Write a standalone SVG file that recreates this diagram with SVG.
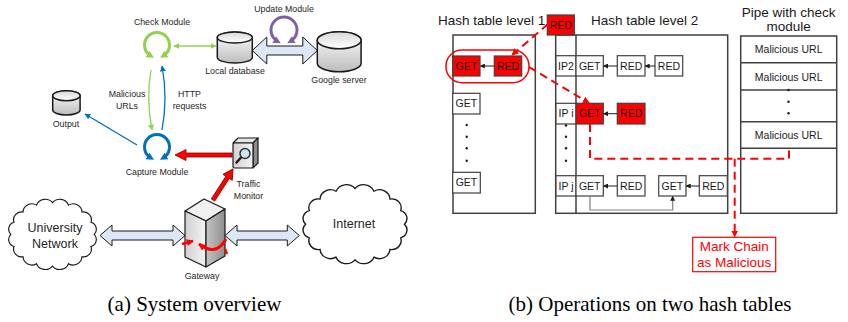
<svg xmlns="http://www.w3.org/2000/svg" width="848" height="322" viewBox="0 0 848 322">
  <style>
    .lbl { font-family: "Liberation Sans", Arial, sans-serif; font-size: 8.8px; fill: #262626; text-anchor: middle; }
    .cloudtxt { font-family: "Liberation Sans", Arial, sans-serif; font-size: 12.5px; fill: #262626; text-anchor: middle; }
    .cap { font-family: "Liberation Serif", "Times New Roman", serif; font-size: 21px; fill: #000; text-anchor: middle; }
    .title { font-family: "Liberation Sans", Arial, sans-serif; font-size: 13.5px; fill: #1a1a1a; }
    .bt { font-family: "Liberation Sans", Arial, sans-serif; font-size: 10.5px; fill: #1a1a1a; text-anchor: middle; }
    .cell { fill: #fff; stroke: #404040; stroke-width: 1.2; }
    .hot { fill: #ff0000; stroke: #404040; stroke-width: 1.2; }
    .tbl { fill: none; stroke: #404040; stroke-width: 1.5; }
    .link { fill: none; stroke: #1a1a1a; stroke-width: 1; marker-end: url(#ah-black); }
    .dash { fill: none; stroke: #ff0000; stroke-width: 2; stroke-dasharray: 8 5; }
    .cyl { fill: url(#cylBody); stroke: #1a1a1a; stroke-width: 1.5; }
    .cyltop { fill: url(#cylTop); stroke: #1a1a1a; stroke-width: 1.5; }
    .block { fill: #dde7f5; stroke: #1a1a1a; stroke-width: 1; }
    .redblock { fill: #ff0000; stroke: #7f0000; stroke-width: 0.8; }
    .cloud { fill: #fff; stroke: #1a1a1a; stroke-width: 1.2; }
    .dot { fill: #1a1a1a; }
  </style>
  <defs>
    <linearGradient id="cylBody" x1="0" y1="0" x2="0" y2="1">
      <stop offset="0" stop-color="#ffffff"/>
      <stop offset="1" stop-color="#bdbdbd"/>
    </linearGradient>
    <linearGradient id="cylTop" x1="0" y1="0" x2="0" y2="1">
      <stop offset="0" stop-color="#d8d8d8"/>
      <stop offset="1" stop-color="#ffffff"/>
    </linearGradient>
    <linearGradient id="gwLeft" x1="0" y1="0" x2="1" y2="0">
      <stop offset="0" stop-color="#d0d0d0"/>
      <stop offset="1" stop-color="#f4f4f4"/>
    </linearGradient>
    <linearGradient id="gwRight" x1="0" y1="0" x2="1" y2="0">
      <stop offset="0" stop-color="#c4c4c4"/>
      <stop offset="1" stop-color="#8e8e8e"/>
    </linearGradient>
    <marker id="ah-green" viewBox="0 0 10 10" refX="5" refY="5" markerWidth="7.5" markerHeight="7.5" markerUnits="userSpaceOnUse" orient="auto-start-reverse">
      <path d="M0,0 L10,5 L0,10 z" fill="#92d050"/>
    </marker>
    <marker id="ah-blue" viewBox="0 0 10 10" refX="5" refY="5" markerWidth="7.5" markerHeight="7.5" markerUnits="userSpaceOnUse" orient="auto-start-reverse">
      <path d="M0,0 L10,5 L0,10 z" fill="#0070c0"/>
    </marker>
    <marker id="ah-purple" viewBox="0 0 10 10" refX="5" refY="5" markerWidth="7.5" markerHeight="7.5" markerUnits="userSpaceOnUse" orient="auto-start-reverse">
      <path d="M0,0 L10,5 L0,10 z" fill="#7e60a8"/>
    </marker>
    <marker id="tip-green" viewBox="0 0 10 10" refX="9" refY="5" markerWidth="6" markerHeight="6" markerUnits="userSpaceOnUse" orient="auto-start-reverse">
      <path d="M0,0 L10,5 L0,10 z" fill="#92d050"/>
    </marker>
    <marker id="tip-blue" viewBox="0 0 10 10" refX="9" refY="5" markerWidth="6" markerHeight="6" markerUnits="userSpaceOnUse" orient="auto-start-reverse">
      <path d="M0,0 L10,5 L0,10 z" fill="#0070c0"/>
    </marker>
    <marker id="ah-red" viewBox="0 0 10 10" refX="9" refY="5" markerWidth="7" markerHeight="7" markerUnits="userSpaceOnUse" orient="auto-start-reverse">
      <path d="M0,0 L10,5 L0,10 z" fill="#ff0000"/>
    </marker>
    <marker id="ah-black" viewBox="0 0 10 10" refX="9" refY="5" markerWidth="5" markerHeight="5" markerUnits="userSpaceOnUse" orient="auto-start-reverse">
      <path d="M0,0 L10,5 L0,10 z" fill="#1a1a1a"/>
    </marker>
    <!-- generic cloud outline in a 100x80 box: 16 outward bumps round an ellipse -->
    <path id="cloudShape" d="M93,40 A7.6,7.6 0 0 1 89.7,52.6 A8.2,8.2 0 0 1 80.4,63.3 A9.1,9.1 0 0 1 66.5,70.5 A9.7,9.7 0 0 1 50,73 A9.7,9.7 0 0 1 33.5,70.5 A9.1,9.1 0 0 1 19.6,63.3 A8.2,8.2 0 0 1 10.3,52.6 A7.6,7.6 0 0 1 7,40 A7.6,7.6 0 0 1 10.3,27.4 A8.2,8.2 0 0 1 19.6,16.7 A9.1,9.1 0 0 1 33.5,9.5 A9.7,9.7 0 0 1 50,7 A9.7,9.7 0 0 1 66.5,9.5 A9.1,9.1 0 0 1 80.4,16.7 A8.2,8.2 0 0 1 89.7,27.4 A7.6,7.6 0 0 1 93,40 Z"/>
  </defs>

  <!-- ===================== (a) System overview ===================== -->
  <g id="connectors-a">
    <!-- Check <-> Local database -->
    <path d="M174,46 L216,46" fill="none" stroke="#92d050" stroke-width="1.3" marker-start="url(#tip-green)" marker-end="url(#tip-green)"/>
    <!-- Malicious URLs: check -> capture -->
    <path d="M151,70 Q146,99 152,130" fill="none" stroke="#92d050" stroke-width="1.3" marker-end="url(#tip-green)"/>
    <!-- HTTP requests: capture -> check -->
    <path d="M162,130 Q168,98 162,66" fill="none" stroke="#0070c0" stroke-width="1.3" marker-end="url(#tip-blue)"/>
    <!-- capture -> output -->
    <path d="M137,145 L85,114" fill="none" stroke="#0070c0" stroke-width="1.3" marker-end="url(#tip-blue)"/>
    <!-- DB <-> Google server -->
    <path class="block" d="M252.3,50.5 L266.8,37 L266.8,46 L302.8,46 L302.8,37 L317.3,50.5 L302.8,64 L302.8,55 L266.8,55 L266.8,64 Z"/>
    <!-- University network <-> gateway -->
    <path class="block" d="M100,235.5 L112,225 L112,231 L173,231 L173,225 L185,235.5 L173,246 L173,240 L112,240 L112,246 Z"/>
    <!-- gateway <-> Internet -->
    <path class="block" d="M225,235.5 L237,225 L237,231 L287.3,231 L287.3,225 L299.3,235.5 L287.3,246 L287.3,240 L237,240 L237,246 Z"/>
    <!-- traffic monitor -> capture -->
    <path class="redblock" d="M175,155 L186,149.5 L186,153 L232,153 L232,157 L186,157 L186,160.5 Z"/>
    <!-- gateway -> traffic monitor -->
    <path class="redblock" transform="translate(213,200) rotate(-57.2)" d="M0,-2 L27,-2 L27,-5.5 L37,0 L27,5.5 L27,2 L0,2 Z"/>
  </g>

  <g id="check-module">
    <path d="M150.75,55.83 A12.5,12.5 0 1 1 163.25,55.83" fill="none" stroke="#92d050" stroke-width="3" marker-start="url(#ah-green)" marker-end="url(#ah-green)"/>
    <text class="lbl" x="162" y="25">Check Module</text>
  </g>

  <g id="capture-module">
    <path d="M150.75,157.83 A12.5,12.5 0 1 1 163.25,157.83" fill="none" stroke="#0070c0" stroke-width="3" marker-start="url(#ah-blue)" marker-end="url(#ah-blue)"/>
    <text class="lbl" x="157" y="175">Capture Module</text>
  </g>

  <g id="edge-labels-a">
    <text class="lbl" x="127" y="96.5">Malicious</text>
    <text class="lbl" x="127" y="108.5">URLs</text>
    <text class="lbl" x="189.5" y="96.5">HTTP</text>
    <text class="lbl" x="189.5" y="108.5">requests</text>
  </g>

  <g id="update-module">
    <path d="M277.5,41.26 A13,13 0 1 1 290.5,41.26" fill="none" stroke="#7e60a8" stroke-width="3" marker-start="url(#ah-purple)" marker-end="url(#ah-purple)"/>
    <text class="lbl" x="284" y="11.5">Update Module</text>
  </g>

  <g id="local-database">
    <path class="cyl" d="M217.3,37.5 A17.5,5.5 0 0 1 252.3,37.5 V57.5 A17.5,5.5 0 0 1 217.3,57.5 Z"/>
    <ellipse class="cyltop" cx="234.8" cy="37.5" rx="17.5" ry="5.5"/>
    <text class="lbl" x="235" y="74">Local database</text>
  </g>

  <g id="google-server">
    <path class="cyl" d="M317.3,40.2 A21.9,8.5 0 0 1 361.1,40.2 V63.2 A21.9,8.5 0 0 1 317.3,63.2 Z"/>
    <ellipse class="cyltop" cx="339.2" cy="40.2" rx="21.9" ry="8.5"/>
    <text class="lbl" x="339" y="82.5">Google server</text>
  </g>

  <g id="output">
    <path class="cyl" d="M52.7,95.7 A13.7,5 0 0 1 80.1,95.7 V110 A13.7,5 0 0 1 52.7,110 Z"/>
    <ellipse class="cyltop" cx="66.4" cy="95.7" rx="13.7" ry="5"/>
    <text class="lbl" x="66" y="126.5">Output</text>
  </g>

  <g id="traffic-monitor">
    <path d="M233,143 L238,138 L258,138 L253,143 Z" fill="#e6e6e6" stroke="#1a1a1a" stroke-width="1.2" stroke-linejoin="round"/>
    <path d="M253,143 L258,138 L258,163 L253,168 Z" fill="#8e8e8e" stroke="#1a1a1a" stroke-width="1.2" stroke-linejoin="round"/>
    <rect x="233" y="143" width="20" height="25" rx="1.5" fill="url(#gwLeft)" stroke="#1a1a1a" stroke-width="1.2"/>
    <line x1="241" y1="157.5" x2="236.5" y2="162.5" stroke="#1a1a1a" stroke-width="2.4" stroke-linecap="round"/>
    <circle cx="245" cy="153.5" r="5" fill="#cfe3f7" stroke="#333" stroke-width="1.5"/>
    <text class="lbl" x="248.5" y="186.5">Traffic</text>
    <text class="lbl" x="248.5" y="198.5">Monitor</text>
  </g>

  <g id="gateway">
    <path d="M185,211 L204,199 L225,209 L206,221 Z" fill="#f0f0f0" stroke="#1a1a1a" stroke-width="1.2" stroke-linejoin="round"/>
    <path d="M185,211 L206,221 L206,267 L185,257 Z" fill="url(#gwLeft)" stroke="#1a1a1a" stroke-width="1.2" stroke-linejoin="round"/>
    <path d="M206,221 L225,209 L225,256 L206,267 Z" fill="url(#gwRight)" stroke="#1a1a1a" stroke-width="1.2" stroke-linejoin="round"/>
    <path d="M226,239 Q216,257 199,244" fill="none" stroke="#ff0000" stroke-width="3" marker-end="url(#ah-red)"/>
    <path d="M182,244 L193,241" fill="none" stroke="#ff0000" stroke-width="2.5" marker-end="url(#ah-red)"/>
    <path d="M225,249 L227,254" fill="none" stroke="#ff0000" stroke-width="2.5"/>
    <text class="lbl" x="202" y="278.5">Gateway</text>
  </g>

  <g id="university-network">
    <use href="#cloudShape" class="cloud" transform="translate(4,196) scale(0.97,0.96)"/>
    <text class="cloudtxt" x="55" y="232">University</text>
    <text class="cloudtxt" x="55" y="248">Network</text>
  </g>

  <g id="internet">
    <use href="#cloudShape" class="cloud" transform="translate(297.5,181) scale(1.15,1.08)"/>
    <text class="cloudtxt" x="354" y="228">Internet</text>
  </g>

  <!-- ===================== (b) Operations on two hash tables ===================== -->
  <g id="hash-level-1">
    <text class="title" x="438" y="25">Hash table level 1</text>
    <rect class="tbl" x="453" y="35" width="82.3" height="178.3"/>
    <rect class="hot" x="452.7" y="56" width="27.3" height="20"/>
    <text class="bt" x="466.3" y="69.7">GET</text>
    <rect class="hot" x="494.3" y="56" width="27.4" height="20"/>
    <text class="bt" x="508" y="69.7">RED</text>
    <rect x="446" y="50" width="83" height="32.7" rx="16" fill="none" stroke="#ff0000" stroke-width="1.5"/>
    <rect class="cell" x="452.7" y="93.3" width="27.3" height="20.7"/>
    <text class="bt" x="466.3" y="107.3">GET</text>
    <circle class="dot" cx="466.7" cy="125" r="1.2"/>
    <circle class="dot" cx="466.7" cy="136.7" r="1.2"/>
    <circle class="dot" cx="466.7" cy="148.3" r="1.2"/>
    <circle class="dot" cx="466.7" cy="160.7" r="1.2"/>
    <rect class="cell" x="452.7" y="172.3" width="27.6" height="20.7"/>
    <text class="bt" x="466.5" y="186.3">GET</text>
  </g>

  <g id="hash-level-2">
    <text class="title" x="591" y="25">Hash table level 2</text>
    <rect class="tbl" x="555.7" y="35" width="172" height="178.3"/>
    <line class="tbl" x1="576" y1="35" x2="576" y2="213.3"/>
    <!-- IP2 chain -->
    <rect class="cell" x="556" y="55.7" width="20" height="20.3"/>
    <text class="bt" x="566" y="69.5">IP2</text>
    <rect class="cell" x="576" y="55.7" width="27.3" height="20.3"/>
    <text class="bt" x="589.7" y="69.5">GET</text>
    <rect class="cell" x="617.3" y="55.7" width="27.7" height="20.3"/>
    <text class="bt" x="631.2" y="69.5">RED</text>
    <rect class="cell" x="655" y="55.7" width="27.7" height="20.3"/>
    <text class="bt" x="668.9" y="69.5">RED</text>
    <!-- IP i chain -->
    <rect class="cell" x="556" y="103.3" width="20" height="20.7"/>
    <text class="bt" x="566" y="117.3">IP i</text>
    <rect class="hot" x="576" y="103.3" width="27.3" height="20.7"/>
    <text class="bt" x="589.7" y="117.3">GET</text>
    <rect class="hot" x="617.3" y="103.3" width="27.7" height="20.7"/>
    <text class="bt" x="631.2" y="117.3">RED</text>
    <circle class="dot" cx="566" cy="125.5" r="1.2"/>
    <circle class="dot" cx="566" cy="136.7" r="1.2"/>
    <circle class="dot" cx="566" cy="148.3" r="1.2"/>
    <circle class="dot" cx="566" cy="160.7" r="1.2"/>
    <!-- IP j chain -->
    <rect class="cell" x="556" y="175.7" width="20" height="20.3"/>
    <text class="bt" x="566" y="189.5">IP j</text>
    <rect class="cell" x="576" y="175.7" width="27.3" height="20.3"/>
    <text class="bt" x="589.7" y="189.5">GET</text>
    <rect class="cell" x="617.3" y="175.7" width="27.7" height="20.3"/>
    <text class="bt" x="631.2" y="189.5">RED</text>
    <rect class="cell" x="658.7" y="175.7" width="27.3" height="20.3"/>
    <text class="bt" x="672.4" y="189.5">GET</text>
    <rect class="cell" x="699.3" y="175.7" width="28" height="20.3"/>
    <text class="bt" x="713.3" y="189.5">RED</text>
  </g>

  <g id="moved-red">
    <rect class="hot" x="547.3" y="15" width="27" height="20"/>
    <text class="bt" x="560.8" y="28.7">RED</text>
  </g>

  <g id="pipe">
    <text class="title" x="788.7" y="16.5" text-anchor="middle">Pipe with check</text>
    <text class="title" x="788.7" y="30.7" text-anchor="middle">module</text>
    <rect class="tbl" x="740.7" y="36" width="96" height="177.3"/>
    <line class="tbl" x1="740.7" y1="62.7" x2="836.7" y2="62.7"/>
    <line class="tbl" x1="740.7" y1="90" x2="836.7" y2="90"/>
    <line class="tbl" x1="740.7" y1="121.7" x2="836.7" y2="121.7"/>
    <line class="tbl" x1="740.7" y1="148.3" x2="836.7" y2="148.3"/>
    <text class="bt" x="788.7" y="52.7">Malicious URL</text>
    <text class="bt" x="788.7" y="80.7">Malicious URL</text>
    <circle class="dot" cx="788.5" cy="90" r="1.2"/>
    <circle class="dot" cx="788.5" cy="101.7" r="1.2"/>
    <circle class="dot" cx="788.5" cy="113.3" r="1.2"/>
    <text class="bt" x="788.7" y="138.7">Malicious URL</text>
  </g>

  <g id="mark-chain">
    <rect x="692.7" y="237.3" width="83" height="34.4" fill="#fff" stroke="#ff0000" stroke-width="1.2"/>
    <text class="title" x="734.2" y="251.3" text-anchor="middle" style="fill:#ff0000">Mark Chain</text>
    <text class="title" x="734.2" y="267" text-anchor="middle" style="fill:#ff0000">as Malicious</text>
  </g>

  <g id="connectors-b">
    <!-- chain links -->
    <path class="link" d="M494.3,66 L480.3,66"/>
    <path class="link" d="M617.3,66 L603.5,66"/>
    <path class="link" d="M655,66 L645.2,66"/>
    <path class="link" d="M617.3,113.7 L603.5,113.7"/>
    <path class="link" d="M617.3,186 L603.5,186"/>
    <path class="link" d="M699.3,186 L686.2,186"/>
    <path d="M590,196 V210 H672.7 V196.3" fill="none" stroke="#7f7f7f" stroke-width="1.2" marker-end="url(#ah-black)"/>
    <!-- moved entry and check path -->
    <path class="dash" d="M548,24 L512,55" marker-end="url(#ah-red)"/>
    <path class="dash" d="M529,67 L589,103" marker-end="url(#ah-red)"/>
    <path class="dash" d="M590,124 V158.7 H789 V148.3"/>
    <path class="dash" d="M734.7,158.7 V236.8" marker-end="url(#ah-red)"/>
  </g>

  <g id="captions">
    <text class="cap" x="194.5" y="310.5">(a) System overview</text>
    <text class="cap" x="650" y="310.5">(b) Operations on two hash tables</text>
  </g>
</svg>
